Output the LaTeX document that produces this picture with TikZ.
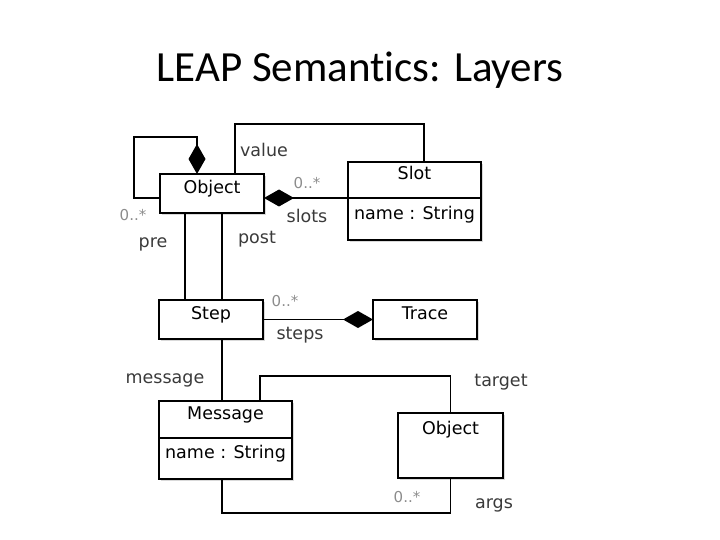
\documentclass[tikz,border=0pt]{standalone}
\usepackage{fontspec}
\setmainfont{Carlito}[Ligatures=NoCommon]
\newfontfamily\umlfont{DejaVu Sans}
\usetikzlibrary{arrows.meta, positioning, shadows}
\definecolor{clabel}{HTML}{3A3A3A}
\definecolor{cmult}{HTML}{8C8C8C}
\tikzset{
  every picture/.style={line width=1.8pt},
  classbox/.style={draw, fill=white, minimum width=#1, inner sep=0pt, outer sep=0pt,
    text height=13pt, text depth=13pt,
    font=\umlfont\fontsize{17.5}{20}\selectfont,
    drop shadow={shadow xshift=2pt, shadow yshift=-2pt, opacity=0.3}},
  attrbox/.style={classbox=#1},
  role/.style={font=\umlfont\fontsize{17.5}{20}\selectfont, text=clabel, inner sep=1pt},
  mult/.style={font=\umlfont\fontsize{15}{18}\selectfont, text=cmult, inner sep=1pt},
  owns/.style={{Diamond[length=30pt, width=17pt]}-},
  owned/.style={-{Diamond[length=30pt, width=17pt]}},
}

\begin{document}
\begin{tikzpicture}[x=1pt, y=-1pt]
  \useasboundingbox (0,0) rectangle (720,540);
  \node[font=\fontsize{43}{48}\selectfont] (title) at (360,70) {LEAP Semantics: Layers};
  % classes
  \node[classbox=104pt, minimum height=39pt] (obj) at (212,193.5) {Object};
  \node[classbox=133pt, minimum height=36pt] (slot) at (414.5,180) {Slot};
  \node[attrbox=133pt, minimum height=42pt, below=0pt of slot] (slotattr) {name : String};
  \node[classbox=104pt, minimum height=39pt] (step) at (211,319.5) {Step};
  \node[classbox=104pt, minimum height=39pt] (trace) at (425,319.5) {Trace};
  \node[classbox=133pt, minimum height=37pt] (msg) at (225.5,419.5) {Message};
  \node[attrbox=133pt, minimum height=41pt, below=0pt of msg] (msgattr) {name : String};
  \node[classbox=105pt, minimum height=65pt] (obj2) at (450.5,445.5) {};
  \node[font=\umlfont\fontsize{17.5}{20}\selectfont, below=4pt of obj2.north] (obj2name) {Object};
  % turning points
  \coordinate (loopturn) at (134,137);
  \coordinate (valueturn) at (424,124);
  \coordinate (targetturn) at (450.5,376);
  \coordinate (argsturn) at (222,513);
  % associations
  \draw[owns] ([xshift=-15pt]obj.north) |- (loopturn) |- ([yshift=-4.5pt]obj.west);
  \draw ([xshift=23pt]obj.north) |- (valueturn) -- ([xshift=9.5pt]slot.north);
  \draw[owns] ([yshift=-4.5pt]obj.east) -- (slot.south west);
  \draw ([xshift=-27pt]obj.south) -- ([xshift=-26pt]step.north);
  \draw ([xshift=10pt]obj.south) -- ([xshift=11pt]step.north);
  \draw[owned] (step.east) -- (trace.west);
  \draw ([xshift=11pt]step.south) -- ([xshift=-3.5pt]msg.north);
  \draw ([xshift=34.5pt]msg.north) |- (targetturn) -- (obj2.north);
  \draw ([xshift=-3.5pt]msgattr.south) -- (argsturn) -| (obj2.south);
  % role names and multiplicities
  \node[mult] (m1) at (133,215) {0..*};
  \node[role] (r1) at (153,244) {pre};
  \node[role] (r2) at (264,150) {value};
  \node[mult] (m2) at (307,183) {0..*};
  \node[role] (r3) at (307,216) {slots};
  \node[role] (r4) at (257,239) {post};
  \node[mult] (m3) at (285,301) {0..*};
  \node[role] (r5) at (300,335) {steps};
  \node[role] (r6) at (165,380) {message};
  \node[role] (r7) at (501,382) {target};
  \node[mult] (m4) at (407,497) {0..*};
  \node[role] (r8) at (494,505) {args};
\end{tikzpicture}
\end{document}
